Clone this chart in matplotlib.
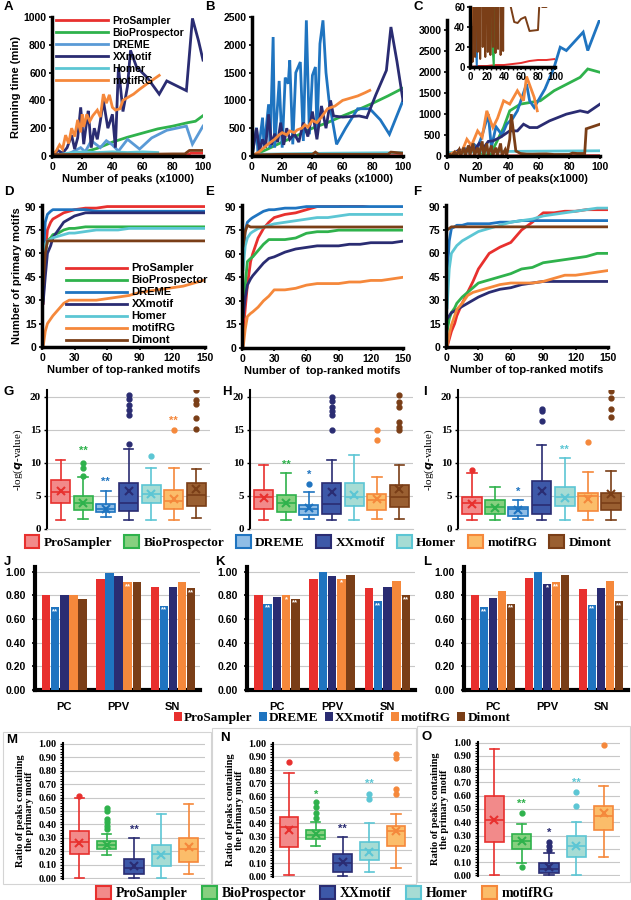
import numpy as np
import matplotlib
matplotlib.use('Agg')
import matplotlib.pyplot as plt
from matplotlib.patches import Rectangle, Patch
from matplotlib.text import Text

plt.rcParams['font.family'] = ['Liberation Sans', 'DejaVu Sans']
plt.rcParams['font.weight'] = 'bold'
SERIF = ['Liberation Serif', 'DejaVu Serif']

#%% colours
col = {'ProSampler': '#e8302e', 'BioProspector': '#2fb24c', 'DREME': '#1f74c0',
       'XXmotif': '#2a2c72', 'Homer': '#5cc6d4', 'motifRG': '#f5883b', 'Dimont': '#7a3e17'}
fill = {'ProSampler': '#f28a8a', 'BioProspector': '#86d07f', 'DREME': '#8fbde6',
        'XXmotif': '#3d58a8', 'Homer': '#a6dcd4', 'motifRG': '#fbbd6a', 'Dimont': '#9a5f31'}
dreme_light = '#5a9ad6'

#%% A: running time, dataset 1
A_pro_x = [0, 20, 40, 60, 80, 90, 92, 100]
A_pro_y = [5, 8, 8, 10, 10, 10, 20, 20]
A_bio_x = [0, 10, 20, 30, 40, 50, 60, 70, 80, 90, 95, 100]
A_bio_y = [0, 10, 25, 55, 100, 135, 165, 195, 215, 240, 250, 290]
A_dreme_x = [0, 10, 19, 22, 26, 32, 36, 40, 44, 50, 58, 66, 76, 89, 93, 100]
A_dreme_y = [0, 10, 60, 30, 110, 60, 110, 80, 35, 120, 50, 130, 185, 215, 85, 215]
A_xx_x = [0, 4, 7, 10, 13, 15, 17, 19, 21, 23, 24, 26, 28, 30, 32, 34, 37, 40, 42, 44, 47, 50, 52, 56, 63, 71, 76, 89, 93, 97, 100]
A_xx_y = [0, 40, 20, 60, 150, 50, 130, 350, 85, 250, 325, 60, 200, 120, 250, 400, 200, 300, 60, 640, 320, 500, 760, 640, 565, 445, 540, 470, 990, 830, 690]
A_homer_x = [0, 10, 20, 30, 40, 50, 60, 70]
A_homer_y = [0, 20, 30, 25, 30, 25, 30, 25]
A_rg_x = [0, 3, 5, 7, 9, 11, 13, 15, 17, 19, 20, 21, 23, 25, 27, 30, 32, 34, 36, 38, 40, 42, 45, 47, 50, 54, 58, 63, 67, 71]
A_rg_y = [0, 40, 80, 50, 150, 90, 200, 140, 260, 170, 300, 210, 300, 250, 290, 330, 280, 445, 380, 440, 350, 330, 340, 400, 420, 445, 480, 520, 550, 580]
A_dim_x = [0, 20, 40, 60, 80, 88, 91, 100]
A_dim_y = [10, 12, 15, 12, 15, 15, 40, 40]

#%% B: running time, dataset 2
B_pro_x = [0, 50, 100]
B_pro_y = [2, 5, 8]
B_bio_x = [0, 10, 20, 30, 40, 50, 60, 70, 80, 90, 100]
B_bio_y = [0, 120, 250, 370, 500, 600, 720, 830, 950, 1080, 1220]
B_dreme_x = [0, 3, 4, 7, 8, 11, 12, 14, 15, 18, 20, 22, 24, 25, 27, 29, 32, 34, 36, 38, 40, 42, 43, 45, 47, 49, 51, 56, 62, 70, 78, 85, 91, 100]
B_dreme_y = [0, 510, 30, 690, 150, 930, 150, 2140, 150, 1350, 150, 1410, 1300, 1720, 210, 1500, 1690, 270, 2440, 390, 1450, 1600, 390, 2020, 2440, 1500, 1000, 210, 500, 850, 850, 650, 390, 1000]
B_xx_x = [0, 3, 5, 7, 9, 11, 13, 15, 17, 19, 21, 23, 25, 28, 31, 34, 37, 40, 43, 46, 49, 52, 54, 60, 71, 76, 82, 89, 92, 96, 100]
B_xx_y = [0, 500, 100, 300, 150, 750, 200, 400, 250, 600, 200, 500, 300, 400, 250, 600, 350, 800, 300, 900, 500, 1000, 720, 700, 720, 690, 1100, 1540, 2320, 1700, 1000]
B_homer_x = [0, 50, 100]
B_homer_y = [30, 50, 60]
B_rg_x = [0, 5, 10, 15, 18, 20, 23, 25, 28, 30, 33, 35, 37, 40, 43, 46, 50, 55, 60, 65, 70, 75, 78]
B_rg_y = [0, 80, 200, 300, 380, 420, 380, 450, 420, 470, 500, 560, 520, 640, 600, 700, 850, 900, 1000, 1040, 1080, 1140, 1180]
B_dim_x = [0, 20, 40, 42, 44, 60, 80, 90, 92, 100]
B_dim_y = [20, 30, 30, 70, 30, 30, 30, 30, 70, 50]

#%% C: running time, dataset 3 (also used by the inset)
C_pro_x = [0, 10, 20, 30, 40, 50, 60, 70, 80, 90, 100]
C_pro_y = [0, 1, 1, 2, 2, 3, 4, 6, 7, 7, 8]
C_bio_x = [0, 5, 10, 15, 20, 28, 37, 41, 48, 61, 70, 87, 92, 100]
C_bio_y = [0, 40, 80, 120, 100, 0, 680, 1080, 1240, 1320, 1560, 1880, 2080, 2000]
C_dreme_x = [0, 5, 8, 11, 14, 17, 20, 23, 27, 29, 32, 36, 39, 43, 46, 52, 54, 57, 64, 70, 74, 78, 89, 92, 100]
C_dreme_y = [0, 60, 0, 200, 100, 300, 200, 500, 1000, 200, 700, 500, 760, 900, 1080, 1720, 1320, 1160, 1600, 2120, 2600, 2520, 2960, 2520, 3280]
C_xx_x = [0, 4, 8, 12, 15, 18, 21, 24, 27, 30, 35, 41, 46, 50, 54, 59, 67, 78, 87, 92, 100]
C_xx_y = [0, 50, 150, 100, 250, 150, 300, 200, 350, 360, 450, 600, 600, 760, 680, 680, 840, 1000, 1080, 1040, 1240]
C_homer_x = [0, 20, 40, 60, 80, 100]
C_homer_y = [80, 100, 110, 115, 120, 125]
C_rg_x = [0, 5, 9, 13, 16, 20, 23, 26, 30, 33, 37, 41, 46, 50, 52, 57, 59]
C_rg_y = [0, 100, 40, 400, 250, 600, 450, 1080, 680, 900, 1320, 1240, 1560, 1320, 1900, 1400, 1080]
C_dim_x = [0, 2, 3, 5, 6, 8, 9, 11, 12, 14, 15, 17, 18, 20, 21, 23, 24, 26, 27, 29, 30, 32, 33, 35, 36, 38, 39, 41, 42, 45, 48, 52, 56, 60, 65, 70, 80, 82, 85, 90, 91, 100]
C_dim_y = [0, 40, 5, 90, 10, 150, 15, 200, 8, 250, 20, 300, 10, 200, 15, 350, 12, 300, 20, 250, 14, 200, 18, 300, 12, 150, 16, 400, 1000, 120, 60, 45, 44, 48, 50, 36, 37, 70, 60, 60, 650, 760]

#%% D/E/F: primary motifs vs top-ranked motifs
top_x = [1, 3, 5, 8, 10, 15, 20, 25, 30, 40, 50, 60, 70, 80, 90, 100, 110, 120, 130, 140, 150]
D_pro = [28, 60, 75, 80, 82, 84, 86, 87, 88, 89, 89, 90, 90, 90, 90, 90, 90, 90, 90, 90, 90]
D_bio = [30, 60, 68, 70, 72, 73, 75, 76, 76, 77, 77, 77, 77, 77, 77, 77, 77, 77, 77, 77, 77]
D_dreme = [55, 80, 85, 87, 88, 88, 88, 88, 88, 88, 87, 87, 87, 87, 87, 87, 87, 87, 87, 87, 87]
D_xx = [28, 45, 60, 65, 70, 75, 80, 82, 84, 86, 86, 86, 86, 86, 86, 86, 86, 86, 86, 86, 86]
D_homer = [60, 66, 68, 69, 70, 71, 72, 73, 73, 74, 75, 75, 75, 76, 76, 76, 76, 76, 76, 76, 76]
D_rg = [0, 10, 15, 18, 20, 24, 28, 30, 30, 30, 30, 31, 32, 33, 35, 36, 37, 38, 39, 41, 43]
D_dim = [40, 60, 68, 68, 68, 68, 68, 68, 68, 68, 68, 68, 68, 68, 68, 68, 68, 68, 68, 68, 68]

E_pro = [10, 25, 40, 55, 60, 70, 76, 80, 83, 85, 86, 88, 90, 90, 90, 91, 91, 92, 92, 92, 92]
E_bio = [20, 40, 55, 57, 58, 62, 66, 69, 69, 69, 70, 73, 74, 74, 75, 75, 75, 75, 75, 75, 75]
E_dreme = [55, 75, 80, 82, 83, 85, 87, 88, 88, 89, 89, 90, 90, 90, 90, 90, 90, 90, 90, 90, 90]
E_xx = [20, 32, 40, 44, 46, 50, 54, 57, 58, 61, 63, 64, 65, 65, 65, 66, 66, 67, 67, 67, 68]
E_homer = [50, 65, 70, 73, 74, 76, 77, 78, 79, 80, 81, 82, 83, 83, 84, 85, 85, 85, 85, 85, 85]
E_rg = [0, 12, 20, 22, 23, 26, 30, 33, 37, 37, 38, 40, 41, 41, 41, 42, 42, 43, 43, 44, 45]
E_dim = [65, 74, 78, 77, 77, 77, 77, 77, 77, 77, 77, 77, 77, 77, 77, 77, 77, 77, 77, 77, 77]

F_pro = [0, 5, 10, 15, 20, 28, 35, 42, 50, 60, 64, 67, 75, 80, 86, 86, 87, 87, 88, 88, 88]
F_bio = [10, 18, 22, 25, 28, 32, 35, 38, 41, 43, 45, 47, 50, 51, 54, 55, 56, 57, 58, 60, 60]
F_dreme = [45, 68, 76, 77, 78, 78, 79, 79, 79, 79, 80, 80, 81, 81, 81, 81, 81, 81, 81, 81, 81]
F_xx = [18, 20, 22, 23, 24, 26, 28, 30, 32, 35, 37, 38, 40, 41, 42, 42, 42, 42, 42, 42, 42]
F_homer = [25, 50, 60, 63, 65, 68, 70, 72, 74, 76, 78, 80, 81, 82, 84, 85, 86, 87, 88, 89, 89]
F_rg = [0, 8, 14, 20, 24, 28, 33, 35, 36, 38, 40, 41, 41, 41, 42, 44, 46, 46, 47, 48, 49]
F_dim = [75, 76, 77, 77, 77, 77, 77, 77, 77, 77, 77, 77, 77, 77, 77, 77, 77, 77, 77, 77, 77]

#%% G/H/I: -log(q-value) boxes  (whislo, q1, med, q3, whishi, mean, fliers)
box7 = ['ProSampler', 'BioProspector', 'DREME', 'XXmotif', 'Homer', 'motifRG', 'Dimont']
G_stats = [(1.4, 3.9, 5.6, 7.4, 10.5, 5.7, []),
           (1.5, 2.8, 3.9, 5.0, 7.8, 4.0, [8.0, 9.2, 10.0]),
           (1.8, 2.5, 3.0, 3.8, 5.7, 3.0, []),
           (1.4, 2.7, 3.9, 6.9, 12.1, 5.7, [12.8, 17.2, 18.0, 18.8, 19.6, 20.2]),
           (1.4, 3.9, 5.3, 6.6, 9.2, 5.3, [11.0]),
           (1.3, 3.0, 4.2, 5.9, 9.2, 4.5, [15.0]),
           (1.6, 3.4, 5.2, 7.0, 9.1, 6.1, [15.1, 16.7, 18.9, 19.5, 21.0])]
G_stars = [(1, 11.0, '**'), (2, 6.4, '**'), (5, 15.6, '**')]
H_stats = [(1.3, 3.0, 4.8, 5.9, 9.6, 4.7, []),
           (1.4, 2.6, 3.9, 5.1, 8.4, 3.9, []),
           (1.5, 2.1, 3.0, 3.7, 5.6, 3.1, [6.8]),
           (1.3, 2.3, 3.8, 6.9, 10.4, 5.6, [15.0, 17.2, 17.8, 18.4, 19.3, 20.0]),
           (1.3, 3.5, 4.9, 7.0, 11.2, 5.1, []),
           (1.5, 2.8, 4.4, 5.3, 7.8, 4.6, [13.4, 14.9]),
           (1.5, 3.3, 4.9, 6.6, 9.6, 6.1, [14.9, 15.4, 16.1, 18.4, 19.2, 20.2])]
H_stars = [(1, 9.0, '**'), (2, 7.5, '*')]
I_stats = [(1.4, 2.3, 3.9, 4.9, 8.5, 3.8, [8.9]),
           (1.3, 2.2, 3.3, 4.4, 6.4, 3.2, []),
           (1.5, 2.0, 3.0, 3.3, 4.4, 2.9, []),
           (1.4, 2.3, 3.7, 7.2, 12.7, 5.8, [16.3, 17.8, 18.2]),
           (1.3, 3.5, 4.8, 6.4, 10.8, 4.7, []),
           (1.3, 2.7, 5.0, 5.5, 8.6, 4.6, [13.2]),
           (1.3, 2.8, 4.0, 5.5, 8.8, 5.3, [16.9, 18.2, 19.8, 20.8])]
I_stars = [(2, 4.8, '*'), (4, 11.2, '**')]

#%% J/K/L: PC, PPV, SN bars
bar_names = ['ProSampler', 'DREME', 'XXmotif', 'motifRG', 'Dimont']
bar_groups = ['PC', 'PPV', 'SN']
J_vals = [[0.80, 0.94, 0.87], [0.70, 0.99, 0.71], [0.80, 0.96, 0.87], [0.80, 0.91, 0.91], [0.77, 0.91, 0.86]]
K_vals = [[0.80, 0.94, 0.86], [0.73, 1.00, 0.75], [0.79, 0.96, 0.87], [0.80, 0.94, 0.92], [0.77, 0.97, 0.80]]
L_vals = [[0.80, 0.95, 0.85], [0.70, 1.00, 0.72], [0.78, 0.90, 0.86], [0.84, 0.91, 0.92], [0.73, 0.97, 0.75]]
J_stars = [(1, 0, '**'), (3, 1, '**'), (1, 2, '**'), (4, 2, '**')]
K_stars = [(1, 0, '**'), (3, 0, '*'), (4, 0, '**'), (3, 1, '*'), (1, 2, '**'), (4, 2, '**')]
L_stars = [(1, 0, '**'), (4, 0, '**'), (2, 1, '*'), (3, 1, '**'), (1, 2, '**'), (4, 2, '**')]

#%% M/N/O: ratio of peaks with primary motif
box5 = ['ProSampler', 'BioProspector', 'XXmotif', 'Homer', 'motifRG']
M_stats = [(0.0, 0.18, 0.27, 0.35, 0.60, 0.26, [0.61]),
           (0.17, 0.22, 0.25, 0.28, 0.33, 0.25, [0.37, 0.39, 0.42, 0.44, 0.50, 0.52]),
           (0.0, 0.03, 0.08, 0.14, 0.30, 0.09, []),
           (0.0, 0.09, 0.18, 0.25, 0.48, 0.17, []),
           (0.03, 0.12, 0.22, 0.30, 0.55, 0.23, [])]
M_stars = [(2, 0.32, '**')]
N_stats = [(0.01, 0.22, 0.37, 0.45, 0.78, 0.35, [0.86]),
           (0.23, 0.28, 0.31, 0.35, 0.41, 0.32, [0.44, 0.48, 0.52, 0.56]),
           (0.0, 0.03, 0.10, 0.17, 0.30, 0.11, []),
           (0.03, 0.12, 0.20, 0.26, 0.40, 0.18, [0.58, 0.62]),
           (0.06, 0.23, 0.34, 0.38, 0.47, 0.34, [0.62, 0.66, 0.89, 0.92])]
N_stars = [(1, 0.58, '*'), (2, 0.32, '**'), (3, 0.66, '**')]
O_stats = [(0.0, 0.25, 0.42, 0.60, 0.95, 0.42, []),
           (0.09, 0.20, 0.26, 0.31, 0.39, 0.26, [0.06, 0.47]),
           (0.0, 0.02, 0.05, 0.09, 0.17, 0.06, [0.19, 0.22, 0.25]),
           (0.0, 0.14, 0.22, 0.30, 0.40, 0.22, [0.52, 0.63]),
           (0.14, 0.34, 0.45, 0.52, 0.67, 0.47, [0.98])]
O_stars = [(1, 0.50, '**'), (2, 0.28, '*'), (3, 0.66, '**')]

#%% figure
W, H = 631, 900
fig = plt.figure(figsize=(W / 100, H / 100), dpi=100)


def ax_px(l, t, r, b):
    return fig.add_axes([l / W, 1 - b / H, (r - l) / W, (b - t) / H])


def letter(x, y, s):
    fig.text(x / W, 1 - y / H, s, fontsize=9.5, fontweight='bold', va='center', ha='left')


def style_line(ax, xlim, ylim, xticks, yticks):
    ax.set_xlim(*xlim)
    ax.set_ylim(*ylim)
    ax.set_xticks(xticks)
    ax.set_yticks(yticks)
    for s in ['top', 'right']:
        ax.spines[s].set_visible(False)
    ax.spines['left'].set_linewidth(2.5)
    ax.spines['bottom'].set_linewidth(2.5)
    ax.tick_params(labelsize=7.5, width=1.2, length=2.5, pad=1.5)


def run_panel(ax, series, ylim, yticks, dreme_c):
    for name, x, y in series:
        c = dreme_c if name == 'DREME' else col[name]
        ax.plot(x, y, color=c, lw=2, label=name, solid_joinstyle='miter')
    style_line(ax, (0, 100), ylim, range(0, 101, 20), yticks)
    ax.set_xlabel('Number of peaks (x1000)', fontsize=8, labelpad=2)


axA = ax_px(52, 17, 203, 156)
serA = [('ProSampler', A_pro_x, A_pro_y), ('BioProspector', A_bio_x, A_bio_y),
        ('DREME', A_dreme_x, A_dreme_y), ('XXmotif', A_xx_x, A_xx_y),
        ('Homer', A_homer_x, A_homer_y), ('motifRG', A_rg_x, A_rg_y)]
run_panel(axA, serA, (0, 1000), range(0, 1001, 200), dreme_light)
axA.plot(A_dim_x, A_dim_y, color=col['Dimont'], lw=2)
axA.set_ylabel('Running time (min)', fontsize=8, labelpad=2)
axA.legend(loc='upper left', bbox_to_anchor=(0.0, 1.04), fontsize=7.5, frameon=False,
           handlelength=5, labelspacing=0.2, handletextpad=0.4, borderaxespad=0)

axB = ax_px(252, 17, 403, 156)
serB = [('ProSampler', B_pro_x, B_pro_y), ('BioProspector', B_bio_x, B_bio_y),
        ('DREME', B_dreme_x, B_dreme_y), ('XXmotif', B_xx_x, B_xx_y),
        ('Homer', B_homer_x, B_homer_y), ('motifRG', B_rg_x, B_rg_y), ('Dimont', B_dim_x, B_dim_y)]
run_panel(axB, serB, (0, 2500), range(0, 2501, 500), col['DREME'])

axC = ax_px(447, 20, 600, 156)
serC = [('ProSampler', C_pro_x, C_pro_y), ('BioProspector', C_bio_x, C_bio_y),
        ('DREME', C_dreme_x, C_dreme_y), ('XXmotif', C_xx_x, C_xx_y),
        ('Homer', C_homer_x, C_homer_y), ('motifRG', C_rg_x, C_rg_y), ('Dimont', C_dim_x, C_dim_y)]
run_panel(axC, serC, (0, 3250), range(0, 3001, 500), col['DREME'])
axC.set_xlabel('Number of peaks(x1000)', fontsize=8, labelpad=2)

axCi = ax_px(470, 7, 555, 67)
axCi.patch.set_alpha(0)
for name, x, y in serC:
    axCi.plot(x, y, color=col[name], lw=1.4)
style_line(axCi, (0, 100), (0, 60), range(0, 101, 20), range(0, 61, 20))
axCi.set_xticks(range(0, 101, 5), minor=True)
axCi.tick_params(labelsize=7, pad=1)
axCi.tick_params(which='minor', length=2, width=1)

# D/E/F
for l, t, r, b, data, lab in [(42, 205, 205, 347, (D_pro, D_bio, D_dreme, D_xx, D_homer, D_rg, D_dim), 'Number of top-ranked motifs'),
                              (242, 205, 403, 348, (E_pro, E_bio, E_dreme, E_xx, E_homer, E_rg, E_dim), 'Number of  top-ranked motifs'),
                              (446, 205, 608, 347, (F_pro, F_bio, F_dreme, F_xx, F_homer, F_rg, F_dim), 'Number of top-ranked motifs')]:
    ax = ax_px(l, t, r, b)
    for name, y in zip(box7, data):
        ax.plot(top_x, y, color=col[name], lw=2, label=name)
    style_line(ax, (0, 150), (0, 91), range(0, 151, 30), range(0, 91, 15))
    ax.set_xlabel(lab, fontsize=8, labelpad=2)
    if l == 42:
        axD = ax
axD.set_ylabel('Number of primary motifs', fontsize=8, labelpad=2)
axD.legend(loc='lower left', bbox_to_anchor=(0.12, -0.02), fontsize=8, frameon=False,
           handlelength=5.5, labelspacing=0.18, handletextpad=0.4, borderaxespad=0)


def box_panel(ax, names, stats, stars, width, ylim, yticks, fmt):
    st = [dict(whislo=s[0], q1=s[1], med=s[2], q3=s[3], whishi=s[4], mean=s[5], fliers=s[6]) for s in stats]
    pos = list(range(1, len(st) + 1))
    parts = ax.bxp(st, positions=pos, widths=width, showmeans=True, patch_artist=True)
    for i, n in enumerate(names):
        c = col[n]
        parts['boxes'][i].set(facecolor=fill[n], edgecolor=c, linewidth=1.2)
        parts['medians'][i].set(color=c, linewidth=1.2)
        parts['means'][i].set(marker='x', markeredgecolor=c, markersize=6, markeredgewidth=1.5)
        for w in parts['whiskers'][2 * i:2 * i + 2]:
            w.set(color=c, linewidth=1.2)
        for cp in parts['caps'][2 * i:2 * i + 2]:
            cp.set(color=c, linewidth=1.2)
        parts['fliers'][i].set(marker='o', markerfacecolor=c, markeredgecolor=c, markersize=3.5)
    for i, y, s in stars:
        ax.text(pos[i], y, s, color=col[names[i]], ha='center', va='bottom', fontsize=8, fontweight='bold')
    ax.set_xlim(0.4, len(st) + 0.6)
    ax.set_ylim(*ylim)
    ax.set_yticks(yticks)
    ax.set_yticklabels([fmt % v for v in yticks], family=SERIF, fontweight='bold', fontsize=8)
    ax.set_xticks([])
    ax.yaxis.grid(True, color='#c8c8c8', lw=0.8)
    ax.set_axisbelow(True)
    for s in ['top', 'right']:
        ax.spines[s].set_visible(False)
    ax.spines['bottom'].set_color('#c8c8c8')
    ax.spines['left'].set_linewidth(1.5)
    ax.tick_params(axis='y', length=2.5, width=1, pad=2)


qlab = '-log($\\mathit{q}$-value)'
for l, r, stats, stars in [(47, 210, G_stats, G_stars), (250, 413, H_stats, H_stars), (458, 625, I_stats, I_stars)]:
    ax = ax_px(l, 390, r, 529)
    box_panel(ax, box7, stats, stars, 0.85, (0, 21), [0, 5, 10, 15, 20], '%d')
    if l != 250:
        ax.set_ylabel(qlab, family=SERIF, fontsize=8, fontweight='normal', labelpad=3)

fig.legend(handles=[Patch(facecolor=fill[n], edgecolor=col[n], lw=1.5, label=n) for n in box7],
           loc='center', bbox_to_anchor=(318 / W, 1 - 542 / H), ncol=7, frameon=False,
           prop={'family': SERIF, 'size': 9.5, 'weight': 'bold'}, handlelength=1.1, handleheight=1.1,
           handletextpad=0.35, columnspacing=0.9)

# J/K/L bars
bw = 0.155
for l, r, vals, stars in [(35, 200, J_vals, J_stars), (247, 415, K_vals, K_stars), (464, 628, L_vals, L_stars)]:
    ax = ax_px(l, 567, r, 690)
    gx = np.arange(len(bar_groups))
    for k, n in enumerate(bar_names):
        ax.bar(gx + (k - 2) * (bw + 0.012), vals[k], bw, color=col[n], label=n, zorder=3)
    for k, g, s in stars:
        ax.text(g + (k - 2) * (bw + 0.012), vals[k][g] - 0.005, s, color='white', ha='center', va='top',
                fontsize=5.5, fontweight='bold', zorder=4)
    ax.set_xlim(-0.54, 2.5)
    ax.set_ylim(0, 1.04)
    ax.set_yticks(np.arange(0, 1.01, 0.2))
    ax.set_yticklabels(['%.2f' % v for v in np.arange(0, 1.01, 0.2)], fontsize=7.5)
    ax.set_xticks(gx)
    ax.set_xticklabels(bar_groups, fontsize=8)
    ax.tick_params(axis='x', length=0, pad=9)
    ax.tick_params(axis='y', length=2.5, width=1.2, pad=4)
    ax.yaxis.grid(True, color='#c8c8c8', lw=0.8)
    ax.set_axisbelow(True)
    for s in ['top', 'right']:
        ax.spines[s].set_visible(False)
    ax.spines['left'].set_linewidth(3)
    ax.spines['bottom'].set_linewidth(3)

fig.legend(handles=[Patch(facecolor=col[n], label=n) for n in bar_names],
           loc='center', bbox_to_anchor=(342 / W, 1 - 718 / H), ncol=5, frameon=False,
           prop={'family': SERIF, 'size': 9.5, 'weight': 'bold'}, handlelength=0.6, handleheight=0.7,
           handletextpad=0.15, columnspacing=0.5)

# M/N/O frames and boxes
for x0, y0, x1, y1 in [(3, 732, 211, 884), (212, 728, 416, 884), (417, 726, 630, 882)]:
    fig.add_artist(Rectangle((x0 / W, 1 - y1 / H), (x1 - x0) / W, (y1 - y0) / H, transform=fig.transFigure,
                             fill=False, ec='#d4d4d4', lw=0.8))

rticks = [round(0.1 * i, 2) for i in range(11)]
for l, t, r, b, stats, stars in [(63, 743, 205, 879, M_stats, M_stars), (273, 743, 412, 877, N_stats, N_stars),
                                 (478, 742, 620, 876, O_stats, O_stars)]:
    ax = ax_px(l, t, r, b)
    box_panel(ax, box5, stats, stars, 0.7, (-0.005, 1.005), rticks, '%.2f')
    ax.set_yticks(np.arange(0, 1.001, 0.02), minor=True)
    ax.tick_params(axis='y', which='minor', length=2, width=0.8)
    ax.tick_params(axis='y', labelsize=7.5)
    ax.spines['bottom'].set_visible(False)
    ax.set_ylabel('Ratio of peaks containing\nthe primary motif', family=SERIF, fontsize=7.5,
                  fontweight='bold', labelpad=3, linespacing=1.0)

fig.legend(handles=[Patch(facecolor=fill[n], edgecolor=col[n], lw=1.5, label=n) for n in box5],
           loc='center', bbox_to_anchor=(325 / W, 1 - 893 / H), ncol=5, frameon=False,
           prop={'family': SERIF, 'size': 10, 'weight': 'bold'}, handlelength=1.1, handleheight=1.1,
           handletextpad=0.35, columnspacing=1.0)

for x, y, s in [(4, 7, 'A'), (205, 7, 'B'), (413, 7, 'C'), (4, 192, 'D'), (205, 192, 'E'), (413, 192, 'F'),
                (4, 392, 'G'), (222, 392, 'H'), (423, 392, 'I'), (4, 562, 'J'), (215, 562, 'K'), (423, 562, 'L'),
                (6, 740, 'M'), (220, 738, 'N'), (421, 737, 'O')]:
    letter(x, y, s)

# every text in the figure is bold except the q-value labels
for t in fig.findobj(Text):
    if 'q' not in t.get_text() or 'Pro' in t.get_text():
        t.set_fontweight('bold')

fig.savefig('out.png', dpi=100)
